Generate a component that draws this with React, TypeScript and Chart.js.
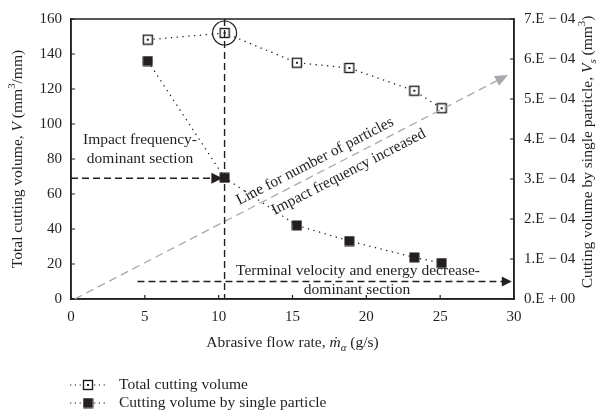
import React, { useEffect, useRef } from "react";
import { Chart, registerables } from "chart.js";
Chart.register(...registerables);

const flowRate = [5.2, 10.4, 15.3, 18.85, 23.25, 25.1];
const totalVolume = [148.2, 152, 135, 132, 119, 109];
const singleVolume = [5.95e-4, 3.03e-4, 1.84e-4, 1.45e-4, 1.04e-4, 0.9e-4];
const xTicks = [0, 5, 10, 15, 20, 25, 30];
const leftTicks = [0, 20, 40, 60, 80, 100, 120, 140, 160];
const rightTicks = [0, 1e-4, 2e-4, 3e-4, 4e-4, 5e-4, 6e-4, 7e-4];
const seriesNames = ["Total cutting volume", "Cutting volume by single particle"];

const FONT = '"Liberation Serif", "DejaVu Serif", serif';
const INK = "#231f20";

type Seg = { t: string; it?: boolean; sub?: boolean; sup?: boolean };

function drawRich(ctx: CanvasRenderingContext2D, segs: Seg[], x: number, y: number, size: number, rot: number) {
  ctx.save();
  ctx.translate(x, y);
  ctx.rotate(rot);
  const fontOf = (s: Seg) => `${s.it ? "italic " : ""}${s.sub || s.sup ? size * 0.7 : size}px ${FONT}`;
  let total = 0;
  for (const s of segs) { ctx.font = fontOf(s); total += ctx.measureText(s.t).width; }
  let cx = -total / 2;
  ctx.fillStyle = INK;
  ctx.textBaseline = "middle";
  ctx.textAlign = "left";
  for (const s of segs) {
    ctx.font = fontOf(s);
    const dy = s.sub ? size * 0.3 : s.sup ? -size * 0.35 : 0;
    ctx.fillText(s.t, cx, dy);
    cx += ctx.measureText(s.t).width;
  }
  ctx.restore();
}

function arrowHead(ctx: CanvasRenderingContext2D, x1: number, y1: number, x2: number, y2: number, len: number, half: number, color: string) {
  const a = Math.atan2(y2 - y1, x2 - x1);
  ctx.save();
  ctx.fillStyle = color;
  ctx.beginPath();
  ctx.moveTo(x2, y2);
  ctx.lineTo(x2 - len * Math.cos(a) + half * Math.sin(a), y2 - len * Math.sin(a) - half * Math.cos(a));
  ctx.lineTo(x2 - len * Math.cos(a) - half * Math.sin(a), y2 - len * Math.sin(a) + half * Math.cos(a));
  ctx.closePath();
  ctx.fill();
  ctx.restore();
}

function makeOpenSquare(): HTMLCanvasElement {
  const c = document.createElement("canvas");
  c.width = 12; c.height = 12;
  const g = c.getContext("2d")!;
  g.fillStyle = "#fff";
  g.fillRect(1, 1, 10, 10);
  g.strokeStyle = INK;
  g.lineWidth = 1.4;
  g.strokeRect(1.5, 1.5, 9, 9);
  g.fillStyle = INK;
  g.fillRect(5, 5, 2, 2);
  return c;
}
function makeFilledSquare(): HTMLCanvasElement {
  const c = document.createElement("canvas");
  c.width = 11; c.height = 11;
  const g = c.getContext("2d")!;
  g.fillStyle = INK;
  g.fillRect(0.5, 0.5, 10, 10);
  return c;
}

export default function App() {
  const ref = useRef<HTMLCanvasElement>(null);
  useEffect(() => {
    const openSq = makeOpenSquare();
    const fillSq = makeFilledSquare();
    const overlay = {
      id: "overlay",
      afterDraw(chart: any) {
        const ctx: CanvasRenderingContext2D = chart.ctx;
        const { left, right, top, bottom } = chart.chartArea;
        const xs = chart.scales.x, ys = chart.scales.y;
        const px = (v: number) => xs.getPixelForValue(v);
        const py = (v: number) => ys.getPixelForValue(v);
        ctx.save();
        // frame
        ctx.strokeStyle = INK;
        ctx.lineWidth = 1.5;
        ctx.strokeRect(left, top, right - left, bottom - top);
        // inward ticks
        ctx.lineWidth = 1.2;
        ctx.beginPath();
        for (const t of xTicks) { ctx.moveTo(px(t), bottom); ctx.lineTo(px(t), bottom - 4); }
        for (const t of leftTicks) { ctx.moveTo(left, py(t)); ctx.lineTo(left + 4, py(t)); }
        for (const t of rightTicks) { const yy = chart.scales.y2.getPixelForValue(t); ctx.moveTo(right, yy); ctx.lineTo(right - 4, yy); }
        ctx.stroke();

        // gray trend arrow
        const gx1 = px(0.25), gy1 = py(0), gx2 = px(29.6), gy2 = py(128);
        const ang = Math.atan2(gy2 - gy1, gx2 - gx1);
        ctx.strokeStyle = "#a7a9ac";
        ctx.lineWidth = 1.3;
        ctx.setLineDash([8, 5]);
        ctx.beginPath(); ctx.moveTo(gx1, gy1); ctx.lineTo(gx2 - 8 * Math.cos(ang), gy2 - 8 * Math.sin(ang)); ctx.stroke();
        ctx.setLineDash([]);
        arrowHead(ctx, gx1, gy1, gx2, gy2, 13, 5.5, "#a7a9ac");

        // vertical dashed line
        ctx.strokeStyle = INK;
        ctx.lineWidth = 1.4;
        ctx.setLineDash([7, 4]);
        ctx.beginPath(); ctx.moveTo(px(10.4), top); ctx.lineTo(px(10.4), bottom); ctx.stroke();
        // horizontal arrow at 69
        ctx.beginPath(); ctx.moveTo(left, py(69)); ctx.lineTo(px(9.5), py(69)); ctx.stroke();
        // lower arrow at 10
        ctx.beginPath(); ctx.moveTo(px(4.5), py(10)); ctx.lineTo(px(29.3), py(10)); ctx.stroke();
        ctx.setLineDash([]);
        arrowHead(ctx, left, py(69), px(10.25), py(69), 11, 5.5, INK);
        arrowHead(ctx, px(4.5), py(10), px(29.85), py(10), 10, 5, INK);

        // circle around peak
        ctx.lineWidth = 1.2;
        ctx.beginPath(); ctx.arc(px(flowRate[1]), py(totalVolume[1]), 12, 0, Math.PI * 2); ctx.stroke();

        // texts
        const fs = 15.5;
        ctx.fillStyle = INK;
        ctx.font = `${fs}px ${FONT}`;
        ctx.textAlign = "center";
        ctx.textBaseline = "middle";
        ctx.fillText("Impact frequency-", 140, 140);
        ctx.fillText("dominant section", 140, 159);
        ctx.fillText("Terminal velocity and energy decrease-", 358, 271);
        ctx.fillText("dominant section", 357, 290);
        const along = (xv: number) => { const t = (px(xv) - gx1) / (gx2 - gx1); return [gx1 + t * (gx2 - gx1), gy1 + t * (gy2 - gy1)]; };
        const [ax, ay] = along(16.9);
        const [bx, by] = along(18.4);
        ctx.save(); ctx.translate(ax, ay); ctx.rotate(ang); ctx.fillText("Line for number of particles", 0, -12); ctx.restore();
        ctx.save(); ctx.translate(bx, by); ctx.rotate(ang); ctx.fillText("Impact frequency increased", 0, 13); ctx.restore();

        // axis titles
        drawRich(ctx, [{ t: "Abrasive flow rate, " }, { t: "ṁ", it: true }, { t: "α", it: true, sub: true }, { t: " (g/s)" }], (left + right) / 2, 343, 15.5, 0);
        drawRich(ctx, [{ t: "Total cutting volume, " }, { t: "V", it: true }, { t: " (mm" }, { t: "3", sup: true }, { t: "/mm)" }], 18, (top + bottom) / 2, 15.5, -Math.PI / 2);
        drawRich(ctx, [{ t: "Cutting volume by single particle, " }, { t: "V", it: true }, { t: "s", it: true, sub: true }, { t: " (mm" }, { t: "3", sup: true }, { t: ")" }], 588, 152, 15.5, -Math.PI / 2);

        // legend
        const rows = [385, 403];
        const icons = [openSq, fillSq];
        rows.forEach((ry, i) => {
          ctx.strokeStyle = INK;
          ctx.lineWidth = 1.2;
          ctx.setLineDash([1.3, 3.5]);
          ctx.beginPath(); ctx.moveTo(70, ry); ctx.lineTo(106, ry); ctx.stroke();
          ctx.setLineDash([]);
          const ic = icons[i];
          ctx.drawImage(ic, 88 - ic.width / 2, ry - ic.height / 2);
          ctx.fillStyle = INK;
          ctx.font = `15.5px ${FONT}`;
          ctx.textAlign = "left";
          ctx.fillText(seriesNames[i], 119, ry);
        });
        ctx.restore();
      },
    };

    const tickFont = { family: FONT, size: 15 };
    const chart = new Chart(ref.current!, {
      type: "line",
      data: {
        datasets: [
          {
            label: seriesNames[0],
            data: flowRate.map((x, i) => ({ x, y: totalVolume[i] })),
            yAxisID: "y",
            borderColor: INK,
            borderWidth: 1.3,
            borderDash: [1.3, 4.5],
            pointStyle: openSq as any,
            pointRadius: 6,
            fill: false,
          },
          {
            label: seriesNames[1],
            data: flowRate.map((x, i) => ({ x, y: singleVolume[i] })),
            yAxisID: "y2",
            borderColor: INK,
            borderWidth: 1.3,
            borderDash: [1.3, 4.5],
            pointStyle: fillSq as any,
            pointRadius: 6,
            fill: false,
          },
        ],
      },
      options: {
        animation: false,
        responsive: true,
        maintainAspectRatio: false,
        layout: { padding: { top: 15, left: 0, right: 0, bottom: 0 } },
        plugins: { legend: { display: false }, tooltip: { enabled: false } },
        scales: {
          x: {
            type: "linear",
            min: 0, max: 30,
            afterBuildTicks: (s: any) => { s.ticks = xTicks.map((v) => ({ value: v })); },
            afterFit: (s: any) => { s.height = 120; },
            grid: { drawOnChartArea: false, drawTicks: false },
            border: { color: INK, width: 1.5 },
            ticks: { color: INK, padding: 9, font: tickFont },
          },
          y: {
            position: "left",
            min: 0, max: 160,
            afterBuildTicks: (s: any) => { s.ticks = leftTicks.map((v) => ({ value: v })); },
            afterFit: (s: any) => { s.width = 71; },
            grid: { drawOnChartArea: false, drawTicks: false },
            border: { color: INK, width: 1.5 },
            ticks: { color: INK, padding: 9, font: tickFont },
          },
          y2: {
            position: "right",
            min: 0, max: 7e-4,
            afterBuildTicks: (s: any) => { s.ticks = rightTicks.map((v) => ({ value: v })); },
            afterFit: (s: any) => { s.width = 87; },
            grid: { drawOnChartArea: false, drawTicks: false },
            border: { color: INK, width: 1.5 },
            ticks: {
              color: INK, padding: 10, font: tickFont,
              callback: (v: any) => {
                const n = Math.round(Number(v) * 1e4);
                return n === 0 ? "0.E + 00" : `${n}.E − 04`;
              },
            },
          },
        },
      },
      plugins: [overlay],
    });
    return () => chart.destroy();
  }, []);
  return (
    <div style={{ position: "absolute", left: 0, top: 0, width: 601, height: 419, background: "#fff" }}>
      <canvas ref={ref} />
    </div>
  );
}
